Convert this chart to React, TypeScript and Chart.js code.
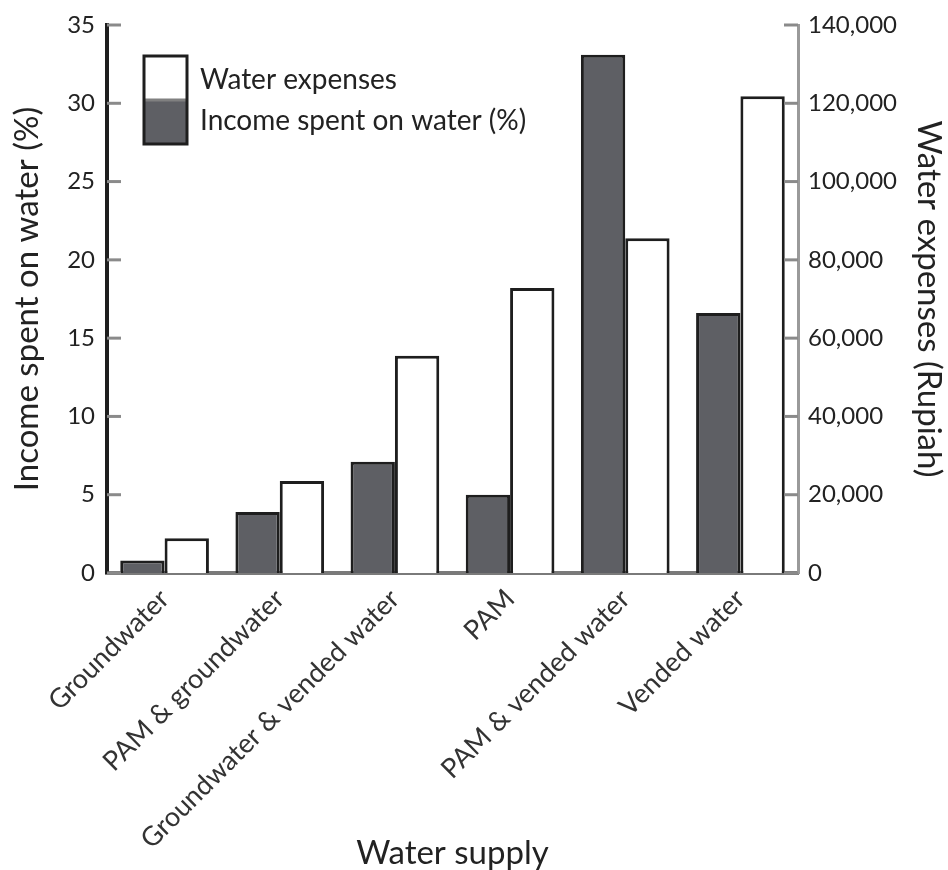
import React, { useEffect, useRef } from "react";
import { Chart, registerables } from "chart.js";

Chart.register(...registerables);

const categories = [
  "Groundwater",
  "PAM & groundwater",
  "Groundwater & vended water",
  "PAM",
  "PAM & vended water",
  "Vended water",
];
const incomeSpentPct = [0.8, 3.9, 7.1, 5.0, 33.1, 16.6];
const waterExpenses = [8900, 23500, 55500, 72800, 85500, 121800];
const leftTicks = [0, 5, 10, 15, 20, 25, 30, 35];
const rightTicks = [0, 20000, 40000, 60000, 80000, 100000, 120000, 140000];

const FONT = "Lato, 'Open Sans', sans-serif";

const innerTicksPlugin = {
  id: "innerTicks",
  afterDraw(chart: any) {
    const ctx = chart.ctx;
    const ys = chart.scales.y;
    const y1 = chart.scales.y1;
    ctx.save();
    ctx.strokeStyle = "#8a8a8a";
    ctx.lineWidth = 3;
    leftTicks.forEach((v) => {
      const py = ys.getPixelForValue(v);
      ctx.beginPath();
      ctx.moveTo(ys.right, py);
      ctx.lineTo(ys.right + 14, py);
      ctx.stroke();
    });
    rightTicks.forEach((v) => {
      const py = y1.getPixelForValue(v);
      ctx.beginPath();
      ctx.moveTo(y1.left - 14, py);
      ctx.lineTo(y1.left, py);
      ctx.stroke();
    });
    ctx.restore();
  },
};

const legendPlugin = {
  id: "customLegend",
  afterDraw(chart: any) {
    const ctx = chart.ctx;
    const x = 144;
    const top = 56;
    const w = 43;
    const h = 44;
    ctx.save();
    ctx.fillStyle = "#ffffff";
    ctx.fillRect(x, top, w, h);
    ctx.fillStyle = "#5e5f64";
    ctx.fillRect(x, top + h, w, h);
    ctx.strokeStyle = "#808080";
    ctx.lineWidth = 3;
    ctx.beginPath();
    ctx.moveTo(x, top + h);
    ctx.lineTo(x + w, top + h);
    ctx.stroke();
    ctx.strokeStyle = "#1e1e1e";
    ctx.lineWidth = 3;
    ctx.strokeRect(x, top, w, 2 * h);
    ctx.fillStyle = "#222";
    ctx.font = "28px " + FONT;
    ctx.textBaseline = "middle";
    ctx.textAlign = "left";
    ctx.fillText("Water expenses", x + w + 13, 80);
    ctx.fillText("Income spent on water (%)", x + w + 13, 121);
    ctx.restore();
  },
};

export default function App() {
  const ref = useRef<HTMLCanvasElement>(null);
  useEffect(() => {
    document.body.style.margin = "0";
    const chart = new Chart(ref.current as HTMLCanvasElement, {
      type: "bar",
      data: {
        labels: categories,
        datasets: [
          {
            label: "Income spent on water (%)",
            data: incomeSpentPct,
            yAxisID: "y",
            backgroundColor: "#5e5f64",
            borderColor: "#1e1e1e",
            borderWidth: 3,
            borderSkipped: "bottom",
          },
          {
            label: "Water expenses",
            data: waterExpenses,
            yAxisID: "y1",
            backgroundColor: "#ffffff",
            borderColor: "#1e1e1e",
            borderWidth: 3,
            borderSkipped: "bottom",
          },
        ],
      },
      options: {
        animation: false,
        responsive: false,
        maintainAspectRatio: false,
        layout: { padding: { top: 25, left: 0, right: 0, bottom: 0 } },
        datasets: { bar: { categoryPercentage: 0.77, barPercentage: 1 } },
        plugins: { legend: { display: false }, tooltip: { enabled: false } },
        scales: {
          x: {
            type: "category",
            offset: true,
            grid: { display: false },
            border: { display: true, color: "#7a7a7a", width: 4 },
            ticks: {
              color: "#333",
              font: { family: FONT, size: 27 },
              maxRotation: 45,
              minRotation: 45,
              autoSkip: false,
              padding: 2,
            },
            title: {
              display: true,
              text: "Water supply",
              color: "#222",
              font: { family: FONT, size: 33, lineHeight: 1 },
              padding: { top: 0, bottom: 0 },
            },
            afterFit(s: any) {
              s.height = 297;
            },
          },
          y: {
            position: "left",
            min: 0,
            max: 35,
            grid: { display: false },
            border: { display: true, color: "#1e1e1e", width: 4 },
            ticks: {
              stepSize: 5,
              color: "#222",
              font: { family: FONT, size: 24 },
              padding: 4,
            },
            title: {
              display: true,
              text: "Income spent on water (%)",
              color: "#222",
              font: { family: FONT, size: 33, lineHeight: 1.2 },
              padding: { top: 8, bottom: 0 },
            },
            afterFit(s: any) {
              s.width = 107;
            },
          },
          y1: {
            position: "right",
            min: 0,
            max: 140000,
            grid: { display: false },
            border: { display: true, color: "#9a9a9a", width: 3 },
            ticks: {
              stepSize: 20000,
              color: "#222",
              font: { family: FONT, size: 24 },
              padding: 2,
              callback: (v: any) => Number(v).toLocaleString("en-US"),
            },
            title: {
              display: true,
              text: "Water expenses (Rupiah)",
              color: "#222",
              font: { family: FONT, size: 33, lineHeight: 1.2 },
              padding: { top: 0, bottom: 0 },
            },
            afterFit(s: any) {
              s.width = 150;
            },
          },
        },
      },
      plugins: [innerTicksPlugin, legendPlugin],
    } as any);
    return () => chart.destroy();
  }, []);
  return (
    <div style={{ width: 948, height: 870, background: "#fff" }}>
      <canvas ref={ref} width={948} height={870} style={{ display: "block" }} />
    </div>
  );
}
